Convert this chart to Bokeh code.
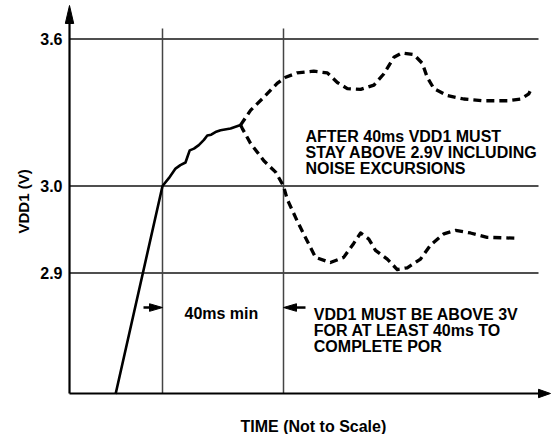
from bokeh.plotting import figure
from bokeh.models import Range1d, FixedTicker, ColumnDataSource, Title
from bokeh.core.properties import value
from bokeh.embed import file_html
from bokeh.resources import INLINE

# ---------------- data (display units: t in ms-like units, v in "volts" of the drawing) ----------
Y_TICKS = [3.169, 3.0, 2.9]
Y_TICK_LABELS = ["3.6", "3.0", "2.9"]
V_MARKERS = [0.0, 40.0]          # vertical reference lines (40 ms window)

RISE_T = [-15.5, 0.0, 2.1, 4.3, 5.9, 7.6, 8.4, 9.0, 10.4, 12.0, 13.7, 14.8, 16.1, 17.5, 19.2, 22.5, 25.8]
RISE_V = [2.761, 3.000, 3.009, 3.020, 3.024, 3.027, 3.035, 3.041, 3.043, 3.047, 3.053, 3.058, 3.059,
          3.062, 3.064, 3.066, 3.070]

UPPER_T = [25.8, 29.1, 33.5, 37.9, 40.7, 44.5, 50.0, 54.5, 57.8, 61.1, 65.5, 69.9, 73.2, 76.5, 79.2,
           83.1, 85.9, 87.5, 89.7, 94.1, 99.6, 106.2, 114.0, 118.4, 121.1, 122.2]
UPPER_V = [3.070, 3.087, 3.102, 3.118, 3.125, 3.130, 3.132, 3.130, 3.119, 3.112, 3.111, 3.116, 3.129,
           3.148, 3.153, 3.151, 3.141, 3.125, 3.112, 3.104, 3.100, 3.098, 3.098, 3.100, 3.106, 3.114]

LOWER_T = [25.8, 26.4, 29.1, 33.5, 37.4, 40.0, 41.2, 44.5, 47.8, 50.6, 55.5, 59.9, 63.2, 65.5, 68.2,
           70.4, 74.3, 77.6, 80.9, 85.3, 88.6, 93.0, 96.9, 101.8, 107.3, 116.7]
LOWER_V = [3.070, 3.066, 3.049, 3.029, 3.016, 3.000, 2.985, 2.960, 2.937, 2.918, 2.912, 2.918, 2.934,
           2.946, 2.939, 2.926, 2.916, 2.904, 2.906, 2.916, 2.932, 2.945, 2.949, 2.946, 2.941, 2.940]

NOTE1_LINES = ["AFTER 40ms VDD1 MUST", "STAY ABOVE 2.9V INCLUDING", "NOISE EXCURSIONS"]
NOTE2_LINES = ["VDD1 MUST BE ABOVE 3V", "FOR AT LEAST 40ms TO", "COMPLETE POR"]
DIM_LABEL = "40ms min"
X_TITLE = "TIME (Not to Scale)"
Y_TITLE = "VDD1 (V)"

# ---------------- layout constants ----------------
X0, X1 = -32.397, 128.595
Y0, Y1 = 2.71437, 3.21322
PX_T = 3.025   # px per t unit
PX_V = 870.0   # px per v unit
AXIS_T = -30.74
AXIS_V = 2.7615
GRID_RIGHT = 124.3
VLINE_TOP = 3.181
DIM_V = 2.8603
Y_ARROW_TIP, Y_ARROW_BASE = 3.20747, 3.18678
X_ARROW_TIP, X_ARROW_BASE = 128.26, 124.30

FONT = value("Liberation Sans")

p = figure(width=551, height=434, output_backend="svg", toolbar_location=None,
           x_range=Range1d(X0, X1), y_range=Range1d(Y0, Y1),
           x_axis_location=None, min_border_left=64, min_border_right=0,
           min_border_top=0, min_border_bottom=0)
p.outline_line_color = None
p.grid.visible = False
p.background_fill_color = "white"

# left axis: tick labels only
ax = p.yaxis[0]
ax.ticker = FixedTicker(ticks=Y_TICKS)
ax.major_label_overrides = dict(zip(Y_TICKS, Y_TICK_LABELS))
ax.axis_line_color = None
ax.major_tick_line_color = None
ax.minor_tick_line_color = None
ax.major_tick_out = 0
ax.major_tick_in = 0
ax.minor_tick_out = 0
ax.minor_tick_in = 0
ax.major_label_standoff = 2
ax.major_label_text_font = "Liberation Sans"
ax.major_label_text_font_style = "bold"
ax.major_label_text_font_size = "16px"
ax.major_label_text_color = "black"

# y-axis title, placed beside the axis
p.add_layout(Title(text=Y_TITLE, align="left", offset=201, standoff=12,
                   text_font="Liberation Sans", text_font_style="bold",
                   text_font_size="15px", text_color="black"), "left")

# grid lines
n = len(Y_TICKS)
p.segment(x0=[AXIS_T] * n, y0=Y_TICKS, x1=[GRID_RIGHT] * n, y1=Y_TICKS,
          line_color="#151515", line_width=1.5)
m = len(V_MARKERS)
p.segment(x0=V_MARKERS, y0=[AXIS_V] * m, x1=V_MARKERS, y1=[VLINE_TOP] * m,
          line_color="#444444", line_width=1.5)

# axes drawn as lines with arrow heads
p.segment(x0=[AXIS_T, AXIS_T], y0=[AXIS_V, AXIS_V], x1=[AXIS_T, X_ARROW_BASE], y1=[Y_ARROW_BASE, AXIS_V],
          line_color="black", line_width=2.2)
hw_t, hw_v = 4.2 / PX_T, 4.2 / PX_V
p.patches(xs=[[AXIS_T - hw_t, AXIS_T, AXIS_T + hw_t], [X_ARROW_BASE, X_ARROW_TIP, X_ARROW_BASE]],
          ys=[[Y_ARROW_BASE, Y_ARROW_TIP, Y_ARROW_BASE], [AXIS_V - hw_v, AXIS_V, AXIS_V + hw_v]],
          fill_color="black", line_color="black", line_width=1)

# dimension arrows (40 ms window)
l_tip, l_base, l_tail = V_MARKERS[0], V_MARKERS[0] - 13 / PX_T, V_MARKERS[0] - 19 / PX_T
r_tip, r_base, r_tail = V_MARKERS[1], V_MARKERS[1] + 13 / PX_T, V_MARKERS[1] + 22 / PX_T
dv = 3.8 / PX_V
p.segment(x0=[l_tail, r_base], y0=[DIM_V, DIM_V], x1=[l_base, r_tail], y1=[DIM_V, DIM_V],
          line_color="black", line_width=2.5)
p.patches(xs=[[l_base, l_tip, l_base], [r_base, r_tip, r_base]],
          ys=[[DIM_V - dv, DIM_V, DIM_V + dv], [DIM_V - dv, DIM_V, DIM_V + dv]],
          fill_color="black", line_color="black", line_width=1)

# curves
p.line(RISE_T, RISE_V, line_color="black", line_width=2.6, line_join="round")
p.line(UPPER_T, UPPER_V, line_color="black", line_width=3.3, line_dash="8 5", line_join="round")
p.line(LOWER_T, LOWER_V, line_color="black", line_width=3.3, line_dash="8 5", line_join="round")

# notes and x-axis title
step = 16 / PX_V
txt_x, txt_y, txt = [], [], []
for lines, tx, ty in [(NOTE1_LINES, 47.27, 3.0572), (NOTE2_LINES, 50.02, 2.8520),
                      ([DIM_LABEL], 7.27, 2.8538), ([X_TITLE], 25.785, 2.72356)]:
    for i, s in enumerate(lines):
        txt_x.append(tx)
        txt_y.append(ty - i * step)
        txt.append(s)
src = ColumnDataSource(dict(x=txt_x, y=txt_y, text=txt))
p.text(x="x", y="y", text="text", source=src, text_font=FONT, text_font_style="bold",
       text_font_size="16px", text_color="black", text_align="left", text_baseline="alphabetic")

open("out.html", "w").write(file_html(p, INLINE))
